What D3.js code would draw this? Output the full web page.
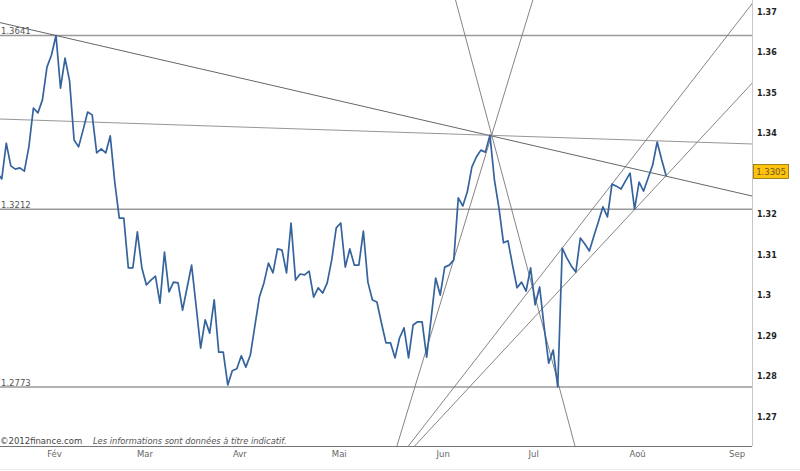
<!DOCTYPE html>
<html><head><meta charset="utf-8">
<script src="https://cdn.jsdelivr.net/npm/d3@7"></script>
<style>
html,body{margin:0;padding:0;background:#fff;}
svg{display:block;font-family:"DejaVu Sans",Verdana,sans-serif;}
</style></head>
<body>
<svg id="chart" width="800" height="471"></svg>
<script>
// ---- DATA ----
// Daily closes (weekdays), starting Tue 15 Jan 2013
const startDate = new Date(2013, 0, 15);
const closes = [
  1.3301, 1.3287, 1.3375, 1.3319, 1.3311, 1.3314, 1.3306, 1.3366, 1.3462, 1.3450,
  1.3482, 1.3563, 1.3593, 1.3641, 1.3511, 1.3585, 1.3529, 1.3383, 1.3366, 1.3408,
  1.3452, 1.3445, 1.3351, 1.3361, 1.3351, 1.3393, 1.3279, 1.3190, 1.3190, 1.3067,
  1.3067, 1.3156, 1.3067, 1.3025, 1.3037, 1.3047, 1.2980, 1.3106, 1.3008, 1.3032,
  1.3030, 1.2963, 1.3018, 1.3074, 1.2973, 1.2869, 1.2939, 1.2906, 1.2988, 1.2859,
  1.2859, 1.2778, 1.2813, 1.2818, 1.2850, 1.2822, 1.2852, 1.2924, 1.2995, 1.3030,
  1.3079, 1.3055, 1.3114, 1.3111, 1.3055, 1.3178, 1.3037, 1.3052, 1.3050, 1.3059,
  1.2995, 1.3018, 1.3005, 1.3030, 1.3087, 1.3166, 1.3178, 1.3069, 1.3114, 1.3074,
  1.3074, 1.3158, 1.3032, 1.2988, 1.2983, 1.2931, 1.2882, 1.2882, 1.2845, 1.2894,
  1.2919, 1.2845, 1.2926, 1.2934, 1.2934, 1.2847, 1.2943, 1.3042, 1.3000, 1.3069,
  1.3074, 1.3087, 1.3240, 1.3220, 1.3255, 1.3316, 1.3341, 1.3358, 1.3353, 1.3395,
  1.3284, 1.3215, 1.3129, 1.3134, 1.3074, 1.3018, 1.3032, 1.3010, 1.3067, 1.2976,
  1.3020, 1.2921, 1.2832, 1.2864, 1.2773, 1.3116, 1.3092, 1.3072, 1.3057, 1.3141,
  1.3126, 1.3109, 1.3146, 1.3181, 1.3218, 1.3193, 1.3274, 1.3269, 1.3262, 1.3282,
  1.3301, 1.3212, 1.3279, 1.3257, 1.3289, 1.3321, 1.3378, 1.3334, 1.3294
];
const lastPrice = 1.3305;

// Horizontal support / resistance levels
const levels = [1.3641, 1.3212, 1.2773];
const levelLabels = ["1.3641", "1.3212", "1.2773"];

// Trend lines: two anchors each, [trading-day index, price]
const trendA = [[13, 1.3641], [166.98, 1.32447]];
const trendB = [[0.61, 1.34348], [166.98, 1.33731]];
const trendC = [[109.39, 1.33953], [127.82, 1.26273]];
const trendD = [[88.42, 1.26273], [118.49, 1.37287]];
const trendE = [[90.96, 1.26273], [166.98, 1.37193]];
const trendF = [[92.34, 1.26273], [166.98, 1.35230]];

// Axis ticks
const monthLabels = ["Fév", "Mar", "Avr", "Mai", "Jun", "Jul", "Aoû", "Sep"];
const monthNumbers = [1, 2, 3, 4, 5, 6, 7, 8];
const yTickValues = [1.37, 1.36, 1.35, 1.34, 1.32, 1.31, 1.30, 1.29, 1.28, 1.27];
const yTickLabels = ["1.37", "1.36", "1.35", "1.34", "1.32", "1.31", "1.3", "1.29", "1.28", "1.27"];

// ---- HELPERS ----
function weekdayIndex(date) {
  let n = 0;
  const d = new Date(startDate);
  while (d < date) {
    const wd = d.getDay();
    d.setDate(d.getDate() + 1);
    if (wd !== 0 && wd !== 6) n++;
  }
  return n;
}
function firstWeekday(year, month) {
  const d = new Date(year, month, 1);
  while (d.getDay() === 0 || d.getDay() === 6) d.setDate(d.getDate() + 1);
  return d;
}

// ---- LAYOUT ----
const W = 752, H = 446;
const svg = d3.select("#chart");

const x = d3.scaleLinear().domain([0.61, 166.98]).range([0, W]);
const y = d3.scaleLinear().domain([1.26273, 1.37287]).range([H, 0]);

svg.append("defs").append("clipPath").attr("id", "plotclip")
  .append("rect").attr("x", 0).attr("y", 0).attr("width", W).attr("height", H);

const plot = svg.append("g").attr("clip-path", "url(#plotclip)");

// faint bottom frame line
svg.append("line").attr("x1", 0).attr("x2", 800).attr("y1", 469.5).attr("y2", 469.5)
  .attr("stroke", "#ececec").attr("stroke-width", 1);

// horizontal levels
plot.selectAll(".level").data(levels).join("line")
  .attr("x1", 0).attr("x2", W)
  .attr("y1", d => y(d)).attr("y2", d => y(d))
  .attr("stroke", "#9a9a9a").attr("stroke-width", 1.3);

svg.selectAll(".levelLabel").data(levels).join("text")
  .attr("x", 1).attr("y", d => y(d) - 1.5)
  .attr("font-size", 8.5).attr("fill", "#555")
  .text((d, i) => levelLabels[i]);

// trend lines extended over the whole x domain
function extend(tl) {
  const [[k1, v1], [k2, v2]] = tl;
  const s = (v2 - v1) / (k2 - k1);
  const [a, b] = [-20, 200];
  return [[a, v1 + s * (a - k1)], [b, v1 + s * (b - k1)]];
}
const trends = [
  {d: trendA, c: "#555"},
  {d: trendB, c: "#8a8a8a"},
  {d: trendC, c: "#777"},
  {d: trendD, c: "#777"},
  {d: trendE, c: "#777"},
  {d: trendF, c: "#777"}
];
const lineGen = d3.line().x(d => x(d[0])).y(d => y(d[1]));
plot.selectAll(".trend").data(trends).join("path")
  .attr("d", t => lineGen(extend(t.d)))
  .attr("fill", "none").attr("stroke", t => t.c).attr("stroke-width", 0.9);

// price line
const series = closes.map((v, i) => [i, v]);
plot.append("path").datum(series)
  .attr("d", lineGen)
  .attr("fill", "none").attr("stroke", "#34639e").attr("stroke-width", 1.7)
  .attr("stroke-linejoin", "round");

// right axis
svg.append("line").attr("x1", W + 0.5).attr("x2", W + 0.5).attr("y1", 0).attr("y2", H)
  .attr("stroke", "#c8c8c8");
const yAxis = d3.axisRight(y).tickValues(yTickValues).tickSize(0).tickPadding(5)
  .tickFormat((d, i) => yTickLabels[i]);
const ya = svg.append("g").attr("transform", `translate(${W},0)`).call(yAxis);
ya.select(".domain").remove();
ya.selectAll("text").attr("font-size", 8).attr("font-weight", "bold")
  .attr("fill", "#222").attr("font-family", "DejaVu Sans, Verdana, sans-serif");

// bottom axis
const monthIdx = monthNumbers.map(m => weekdayIndex(firstWeekday(2013, m)));
const xAxis = d3.axisBottom(x).tickValues(monthIdx).tickSize(0).tickPadding(5)
  .tickFormat((d, i) => monthLabels[i]);
const xa = svg.append("g").attr("transform", `translate(-2,${H})`).call(xAxis);
xa.select(".domain").remove();
xa.selectAll("text").attr("font-size", 8.5).attr("fill", "#666")
  .attr("font-family", "DejaVu Sans, Verdana, sans-serif");
svg.append("line").attr("x1", 0).attr("x2", W).attr("y1", H + 0.5).attr("y2", H + 0.5)
  .attr("stroke", "#777");

// last price box
const lp = svg.append("g").attr("transform", `translate(753.5,${y(lastPrice)})`);
lp.append("rect").attr("x", 0).attr("y", -7).attr("width", 35).attr("height", 14)
  .attr("fill", "#ffc20e").attr("stroke", "#8a6d00").attr("stroke-width", 0.8);
lp.append("text").attr("x", 17.5).attr("y", 3).attr("text-anchor", "middle")
  .attr("font-size", 8.5).attr("fill", "#6b5a20").text(lastPrice.toFixed(4));

// copyright / disclaimer
svg.append("text").attr("x", 0).attr("y", 444).attr("font-size", 8.5).attr("fill", "#444").text("©2012finance.com");
svg.append("text").attr("x", 93).attr("y", 444).attr("font-size", 8.3).attr("fill", "#555")
  .attr("font-style", "italic").text("Les informations sont données à titre indicatif.");
</script>
</body></html>
